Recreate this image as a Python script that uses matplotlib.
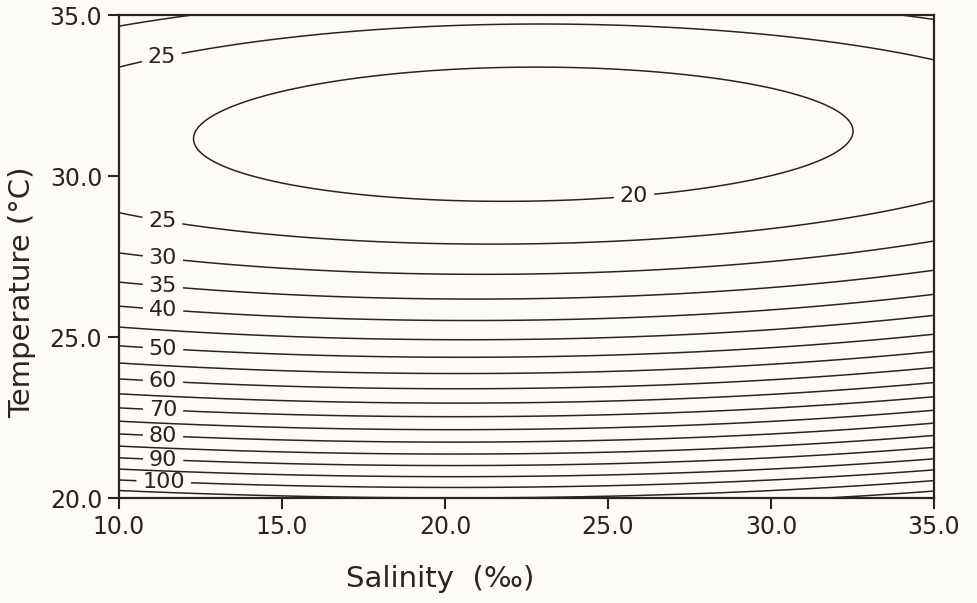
import numpy as np
import matplotlib
matplotlib.use('Agg')
import matplotlib.pyplot as plt
from matplotlib.ticker import FormatStrFormatter

plt.rcParams['font.family'] = ['DejaVu Sans']

# contour levels of the response surface, split into labelled and plain ones
label_levels = [20, 25, 30, 35, 40, 50, 60, 70, 80, 90, 100]
plain_levels = [45, 55, 65, 75, 85, 95, 105, 110]

# temperature (C) where the contours 25..105 cross five salinity lines (below the optimum)
lower_levels = [25, 30, 35, 40, 45, 50, 55, 60, 65, 70, 75, 80, 85, 90, 95, 100, 105]
sal_lines = [10.0, 15.2, 21.7, 29.4, 35.0]
temp_s10 = [28.82, 27.61, 26.72, 25.95, 25.38, 24.73, 24.21, 23.72, 23.26, 22.84,
            22.41, 22.00, 21.58, 21.21, 20.90, 20.59, 20.26]
temp_s15 = [28.11, 27.09, 26.31, 25.62, 25.02, 24.42, 23.93, 23.46, 23.00, 22.59,
            22.17, 21.76, 21.37, 21.02, 20.69, 20.36, 20.07]
temp_s22 = [27.96, 27.00, 26.19, 25.53, 24.94, 24.39, 23.93, 23.46, 22.99, 22.59,
            22.15, 21.76, 21.42, 21.03, 20.69, 20.34, 20.05]
temp_s29 = [28.33, 27.29, 26.46, 25.79, 25.14, 24.58, 24.08, 23.60, 23.15, 22.69,
            22.28, 21.86, 21.55, 21.19, 20.90, 20.59, 20.28]
temp_s35 = [29.20, 27.91, 27.09, 26.38, 25.69, 25.12, 24.60, 24.08, 23.62, 23.15,
            22.74, 22.33, 21.96, 21.60, 21.24, 20.88, 20.52]

# points on the 20 ellipse, the upper branches and the bottom corner
other_sal = [10.0, 11.7, 10.0, 15.2, 21.7, 29.4, 35.0, 12.3, 15.2, 15.2, 21.7, 21.7,
             29.4, 29.4, 32.5, 35.0]
other_temp = [34.60, 35.00, 33.39, 34.31, 34.66, 34.43, 33.60, 31.17, 32.69, 29.72,
              33.36, 29.20, 32.93, 29.88, 31.40, 20.16]
other_level = [30, 30, 25, 25, 25, 25, 25, 20, 20, 20, 20, 20, 20, 20, 20, 110]


def terms(s, t):
    s = (np.asarray(s) - 22.5) / 12.5
    t = (np.asarray(t) - 27.5) / 7.5
    return np.column_stack([s**i * t**j for i in range(4) for j in range(5) if i + j <= 4])


S = np.concatenate([np.full(len(lower_levels), s) for s in sal_lines] + [other_sal])
T = np.concatenate([temp_s10, temp_s15, temp_s22, temp_s29, temp_s35, other_temp])
Z = np.concatenate([lower_levels] * 5 + [other_level]).astype(float)

# smooth polynomial surface through the crossings, reweighted by the local
# slope so the misfit counts as a distance on the chart
A = terms(S, T)
coef = np.linalg.lstsq(A, Z, rcond=None)[0]
for _ in range(4):
    gs = (terms(S + 0.01, T) - terms(S - 0.01, T)) @ coef / 0.02
    gt = (terms(S, T + 0.01) - terms(S, T - 0.01)) @ coef / 0.02
    w = 1.0 / np.maximum(np.hypot(gs, gt), 0.5)
    coef = np.linalg.lstsq(A * w[:, None], Z * w, rcond=None)[0]

sg, tg = np.meshgrid(np.linspace(10, 35, 400), np.linspace(20, 35, 400))
zg = (terms(sg.ravel(), tg.ravel()) @ coef).reshape(sg.shape)

ink = '#2b2323'
bg = '#fdfbf8'
fig, ax = plt.subplots(figsize=(9.77, 6.03), dpi=100)
fig.patch.set_facecolor(bg)
ax.set_facecolor(bg)
fig.subplots_adjust(left=0.1218, right=0.956, bottom=0.174, top=0.975)

ax.contour(sg, tg, zg, levels=plain_levels, colors=ink, linewidths=1.1)
cs = ax.contour(sg, tg, zg, levels=label_levels, colors=ink, linewidths=1.1)

label_pos = [(11.35, 33.5), (11.35, 28.73), (11.35, 27.49), (11.35, 26.62),
             (11.35, 25.81), (11.35, 24.63), (11.35, 23.64), (11.35, 22.71),
             (11.35, 21.9), (11.35, 21.1), (11.37, 20.45), (25.8, 29.35)]
texts = ax.clabel(cs, manual=label_pos, inline=True, inline_spacing=6,
                  fmt='%d', fontsize=16)
for t in texts:
    t.set_rotation(0)

ax.set_xlim(10, 35)
ax.set_ylim(20, 35)
ax.set_xticks([10, 15, 20, 25, 30, 35])
ax.set_yticks([20, 25, 30, 35])
ax.xaxis.set_major_formatter(FormatStrFormatter('%.1f'))
ax.yaxis.set_major_formatter(FormatStrFormatter('%.1f'))
ax.tick_params(direction='out', length=8, width=1.5, labelsize=17, pad=4,
               colors=ink)
for sp in ax.spines.values():
    sp.set_linewidth(1.6)
    sp.set_color(ink)

ax.set_xlabel('Salinity  (‰)', fontsize=21, color=ink)
ax.set_ylabel('Temperature (°C)', fontsize=21, color=ink)
ax.xaxis.set_label_coords(0.394, -0.138)
ax.yaxis.set_label_coords(-0.102, 0.4265)

fig.savefig('out.png', dpi=100, facecolor=bg)
